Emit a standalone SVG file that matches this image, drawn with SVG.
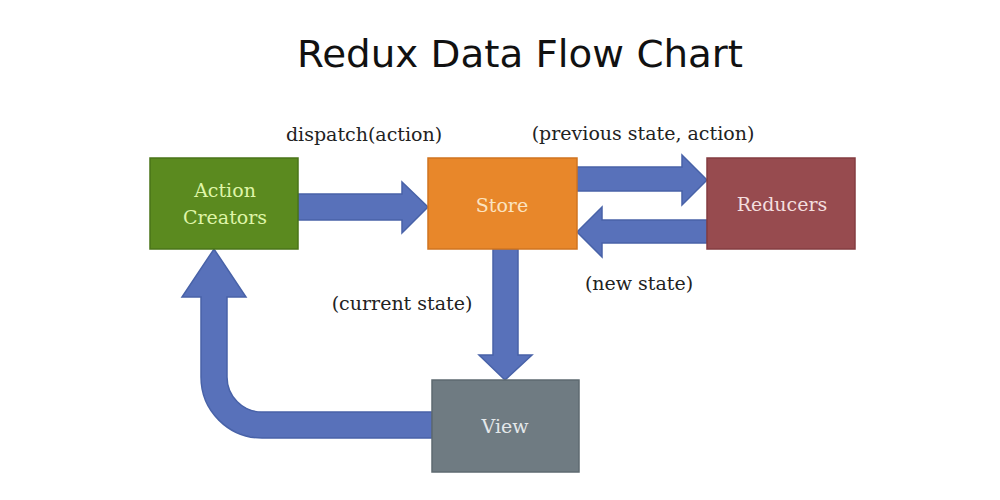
<svg xmlns="http://www.w3.org/2000/svg" width="1000" height="500" viewBox="0 0 1000 500">
<style>
.title{font-family:"DejaVu Sans",sans-serif;font-size:37px;fill:#111;text-anchor:middle}
.lbl{font-family:"DejaVu Serif","Liberation Serif",serif;font-size:19px;fill:#222;text-anchor:middle}
.nt{font-family:"DejaVu Serif","Liberation Serif",serif;font-size:19px;text-anchor:middle}
.arrow{fill:#5871ba;stroke:#4862a8;stroke-width:1.5;stroke-linejoin:miter}
</style>
<rect width="1000" height="500" fill="#ffffff"/>
<text class="title" x="520" y="67" textLength="446" lengthAdjust="spacingAndGlyphs">Redux Data Flow Chart</text>
<g id="connectors">
<polygon class="arrow" points="298,194 402,194 402,182 428,207 402,233 402,220 298,220"/>
<polygon class="arrow" points="577,167 682,167 682,155 707,180 682,205 682,191 577,191"/>
<polygon class="arrow" points="707,220 602,220 602,207 577,232 602,257 602,243 707,243"/>
<polygon class="arrow" points="493,249 518,249 518,355 532,355 505,380 479,355 493,355"/>
<path class="arrow" d="M432,412 L262,412 A35,35 0 0 1 227,377 L227,297 L246,297 L214,249 L182,297 L201,297 L201,377 A61,61 0 0 0 262,438 L432,438 Z"/>
<text class="lbl" x="364" y="141">dispatch(action)</text>
<text class="lbl" x="643" y="140">(previous state, action)</text>
<text class="lbl" x="639" y="290">(new state)</text>
<text class="lbl" x="402" y="310">(current state)</text>
</g>
<g id="action-creators">
<rect x="150" y="158" width="148" height="91" fill="#5b8a1f" stroke="#4a7418" stroke-width="1.5"/>
<text class="nt" x="225" y="197" fill="#dff5a8">Action</text>
<text class="nt" x="225" y="224" fill="#dff5a8">Creators</text>
</g>
<g id="store">
<rect x="428" y="158" width="149" height="91" fill="#e8872a" stroke="#d07420" stroke-width="1.5"/>
<text class="nt" x="502" y="212" fill="#fbe3c0">Store</text>
</g>
<g id="reducers">
<rect x="707" y="158" width="148" height="91" fill="#974b4f" stroke="#843c40" stroke-width="1.5"/>
<text class="nt" x="782" y="211" fill="#f3dede">Reducers</text>
</g>
<g id="view">
<rect x="432" y="380" width="147" height="92" fill="#6f7b82" stroke="#5e6a70" stroke-width="1.5"/>
<text class="nt" x="505" y="433" fill="#e4e8ea">View</text>
</g>
</svg>
